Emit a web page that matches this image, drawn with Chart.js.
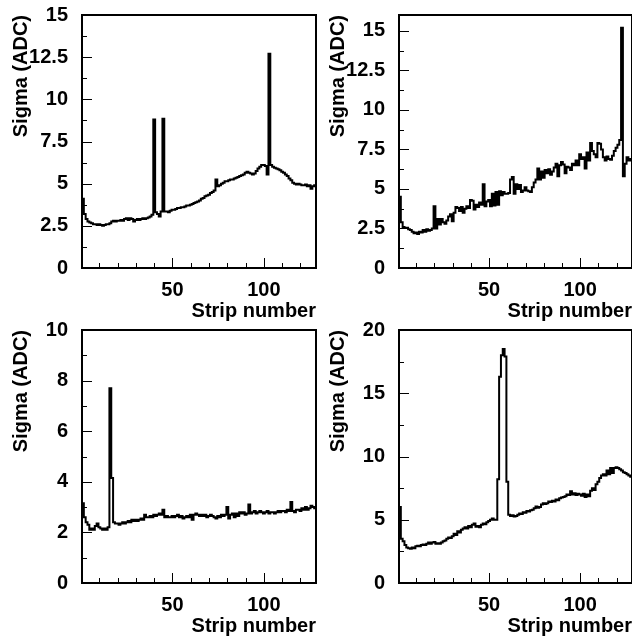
<!DOCTYPE html>
<html>
<head>
<meta charset="utf-8">
<script src="https://cdn.jsdelivr.net/npm/chart.js@4/dist/chart.umd.min.js"></script>
<style>
  html, body { margin: 0; padding: 0; background: #fff; }
  body { width: 632px; height: 637px; position: relative; overflow: hidden; }
  canvas { position: absolute; }
</style>
</head>
<body>
<canvas id="pA" width="318" height="322" style="left:0;top:0"></canvas>
<canvas id="pB" width="318" height="322" style="left:317px;top:0"></canvas>
<canvas id="pC" width="318" height="322" style="left:0;top:315px"></canvas>
<canvas id="pD" width="318" height="322" style="left:317px;top:315px"></canvas>
<script>
// Strip numbers 1..128 (one histogram bin per strip)
const stripNumbers = Array.from({ length: 128 }, (_, i) => i + 1);

// Noise sigma per strip, ADC counts
const sigmaTopLeft = [
  4.1, 3.2, 2.9, 2.75, 2.7, 2.65, 2.6, 2.6, 2.55, 2.6,
  2.55, 2.5, 2.55, 2.6, 2.6, 2.65, 2.75, 2.8, 2.75, 2.8,
  2.8, 2.85, 2.8, 2.9, 2.95, 2.85, 2.95, 2.9, 2.75, 2.85,
  2.9, 2.85, 2.9, 2.95, 2.9, 2.95, 3.0, 3.05, 3.15, 8.8,
  3.3, 3.2, 3.05, 3.35, 8.85, 3.35, 3.35, 3.3, 3.4, 3.45,
  3.45, 3.5, 3.55, 3.55, 3.6, 3.6, 3.65, 3.7, 3.7, 3.75,
  3.8, 3.85, 3.9, 3.95, 4.0, 4.1, 4.15, 4.25, 4.3, 4.35,
  4.45, 4.5, 4.6, 5.25, 4.85, 4.9, 5.0, 5.05, 5.15, 5.15,
  5.2, 5.25, 5.25, 5.3, 5.35, 5.4, 5.45, 5.5, 5.55, 5.65,
  5.7, 5.65, 5.6, 5.55, 5.6, 5.75, 5.9, 6.0, 6.1, 6.1,
  6.05, 5.55, 12.7, 6.1, 6.0, 5.95, 5.9, 5.85, 5.8, 5.7,
  5.65, 5.55, 5.45, 5.3, 5.2, 5.05, 5.0, 4.95, 5.0, 4.95,
  4.9, 4.9, 4.95, 4.85, 4.9, 4.7, 4.85, 4.9
];
const sigmaTopRight = [
  4.5, 2.9, 2.6, 2.55, 2.55, 2.45, 2.4, 2.3, 2.2, 2.25,
  2.15, 2.3, 2.25, 2.4, 2.3, 2.45, 2.35, 2.4, 2.5, 3.9,
  2.5, 3.1, 2.75, 3.1, 2.9, 2.8, 3.0, 3.25, 3.4, 2.95,
  3.5, 3.85, 3.8, 3.6, 3.85, 3.5, 3.75, 3.9, 3.8, 4.3,
  4.25, 3.7, 4.0, 3.85, 4.15, 4.0, 5.3, 3.9, 4.2, 4.3,
  3.9, 4.7, 3.95, 4.8, 4.0, 4.85, 4.6, 4.8, 4.7, 4.7,
  4.75, 5.6, 5.75, 4.7, 5.3, 5.0, 5.25, 4.8, 4.9, 5.1,
  4.9, 4.85, 4.8, 5.1, 5.4, 5.6, 6.3, 5.6, 6.1, 5.7,
  6.2, 6.0, 6.25, 5.9, 6.1, 6.35, 6.6, 5.8, 6.5, 6.7,
  6.55, 6.0, 6.4, 6.35, 6.2, 6.6, 6.5, 6.8, 6.5, 7.2,
  6.9, 7.0, 6.3, 7.3, 6.8, 7.9, 7.4, 7.2, 7.0, 7.9,
  7.85, 7.5, 7.0, 6.8, 7.05, 6.9, 6.85, 7.1, 7.4, 7.6,
  7.8, 8.1, 15.2, 5.8, 6.6, 7.0, 6.8, 6.9
];
const sigmaBottomLeft = [
  3.15, 2.6, 2.4, 2.3, 2.1, 2.15, 2.1, 2.25, 2.35, 2.2,
  2.15, 2.1, 2.15, 2.1, 2.2, 7.7, 4.15, 2.4, 2.35, 2.35,
  2.3, 2.35, 2.4, 2.35, 2.4, 2.45, 2.4, 2.5, 2.45, 2.5,
  2.45, 2.5, 2.55, 2.5, 2.7, 2.6, 2.6, 2.65, 2.6, 2.7,
  2.65, 2.7, 2.75, 2.7, 2.9, 2.6, 2.65, 2.6, 2.6, 2.65,
  2.6, 2.65, 2.7, 2.6, 2.65, 2.55, 2.6, 2.65, 2.6, 2.7,
  2.5, 2.7, 2.75, 2.7, 2.65, 2.7, 2.65, 2.7, 2.6, 2.65,
  2.7, 2.65, 2.6, 2.55, 2.65, 2.6, 2.7, 2.65, 2.7, 3.0,
  2.55, 2.7, 2.75, 2.6, 2.75, 2.65, 2.8, 2.75, 2.8, 2.7,
  2.75, 3.1, 2.75, 2.8, 2.85, 2.75, 2.8, 2.85, 2.8, 2.75,
  2.8, 2.85, 2.75, 2.8, 2.8, 2.75, 2.8, 2.85, 2.8, 2.85,
  2.85, 2.8, 2.9, 2.85, 3.2, 2.85, 2.8, 2.9, 2.9, 2.85,
  2.95, 2.9, 3.0, 2.9, 2.95, 3.05, 3.0, 2.95
];
const sigmaBottomRight = [
  6.0, 3.5, 3.3, 3.0, 2.8, 2.75, 2.7, 2.8, 2.75, 2.9,
  2.95, 2.9, 3.0, 3.05, 3.0, 3.1, 3.2, 3.1, 3.2, 3.25,
  3.1, 3.15, 3.1, 3.2, 3.3, 3.35, 3.5, 3.6, 3.55, 3.7,
  3.9, 3.8, 4.1, 4.0, 4.2, 4.3, 4.4, 4.3, 4.5, 4.4,
  4.6, 4.7, 4.45, 4.5, 4.4, 4.6, 4.7, 4.65, 4.8, 4.9,
  5.0, 5.1, 5.0, 5.0, 8.2, 16.3, 18.0, 18.5, 17.9, 8.0,
  5.4, 5.3, 5.35, 5.25, 5.3, 5.4, 5.5, 5.45, 5.6, 5.55,
  5.7, 5.65, 5.75, 5.8, 5.9, 6.05, 5.95, 6.0, 6.2, 6.3,
  6.25, 6.3, 6.45, 6.4, 6.5, 6.45, 6.6, 6.55, 6.7, 6.75,
  6.8, 6.85, 7.0, 6.95, 7.25, 7.0, 7.1, 6.95, 7.05, 7.0,
  6.9, 7.05, 6.8, 7.0, 6.85, 7.3, 7.5, 7.35, 7.8, 8.0,
  8.3, 8.5, 8.6, 8.5, 8.9, 8.6, 9.1, 8.7, 9.1, 9.15,
  9.1, 9.0, 8.9, 8.75, 8.7, 8.6, 8.5, 8.4
];

// Axis ticks
const xMajorTicks = [50, 100];
const xMinorTicks = [10, 20, 30, 40, 60, 70, 80, 90, 110, 120];
const yTicksTopLeft = [0, 2.5, 5, 7.5, 10, 12.5, 15];
const yMinorTopLeft = [1.25, 3.75, 6.25, 8.75, 11.25, 13.75];
const yTicksTopRight = [0, 2.5, 5, 7.5, 10, 12.5, 15];
const yMinorTopRight = [1.25, 3.75, 6.25, 8.75, 11.25, 13.75];
const yTicksBottomLeft = [0, 2, 4, 6, 8, 10];
const yMinorBottomLeft = [1, 3, 5, 7, 9];
const yTicksBottomRight = [0, 5, 10, 15, 20];
const yMinorBottomRight = [2.5, 7.5, 12.5, 17.5];

const FAMILY = "'Liberation Sans', Arial, Helvetica, sans-serif";
const FONT = { family: FAMILY, size: 20, weight: 'bold', lineHeight: 1.2 };
const TITLE_FONT = { family: FAMILY, size: 20, weight: 'bold', lineHeight: 1.0 };

// Frame box plus inward-pointing major/minor tick marks
const frameTicks = {
  id: 'frameTicks',
  afterDatasetsDraw(chart, args, opts) {
    const { ctx, chartArea: a, scales: { x, y } } = chart;
    ctx.save();
    ctx.strokeStyle = '#000';
    ctx.lineWidth = 1;
    ctx.beginPath();
    const xt = (vals, len) => vals.forEach(v => {
      const px = Math.round(x.getPixelForValue(v)) + 0.5;
      ctx.moveTo(px, a.bottom); ctx.lineTo(px, a.bottom - len);
    });
    const yt = (vals, len) => vals.forEach(v => {
      const py = Math.round(y.getPixelForValue(v)) + 0.5;
      ctx.moveTo(a.left, py); ctx.lineTo(a.left + len, py);
    });
    xt(opts.xMajor, 10); xt(opts.xMinor, 5);
    yt(opts.yMajor, 10); yt(opts.yMinor, 5);
    ctx.stroke();
    ctx.lineWidth = 2;
    ctx.strokeRect(a.left, a.top, a.right - a.left, a.bottom - a.top);
    ctx.restore();
  }
};

function histogram(id, values, yMax, yMajor, yMinor, padRight) {
  // bin edges: strip k spans [k-0.5, k+0.5]
  const pts = stripNumbers.map((s, i) => ({ x: s - 0.5, y: values[i] }));
  pts.push({ x: stripNumbers[stripNumbers.length - 1] + 0.5, y: values[values.length - 1] });
  new Chart(document.getElementById(id), {
    type: 'line',
    data: {
      datasets: [{
        data: pts,
        stepped: 'before',
        borderColor: '#000',
        borderWidth: 2,
        pointRadius: 0,
        fill: false,
        tension: 0
      }]
    },
    options: {
      responsive: false,
      animation: false,
      devicePixelRatio: 1,
      layout: { padding: { left: 0, top: 15, right: padRight, bottom: 0 } },
      plugins: {
        legend: { display: false },
        tooltip: { enabled: false },
        frameTicks: { xMajor: xMajorTicks, xMinor: xMinorTicks, yMajor: yMajor, yMinor: yMinor }
      },
      scales: {
        x: {
          type: 'linear',
          min: 0.5,
          max: 128.5,
          grid: { display: false, drawTicks: false },
          border: { display: false },
          afterBuildTicks: s => { s.ticks = xMajorTicks.map(v => ({ value: v })); },
          afterFit: s => { s.height = 54; s.paddingLeft = 0; s.paddingRight = 0; },
          ticks: { padding: 10, color: '#000', font: FONT, maxRotation: 0, autoSkip: false, callback: v => String(v) },
          title: { display: true, text: 'Strip number', align: 'end', color: '#000', font: TITLE_FONT, padding: { top: 0, bottom: 0.5 } }
        },
        y: {
          type: 'linear',
          min: 0,
          max: yMax,
          grid: { display: false, drawTicks: false },
          border: { display: false },
          afterBuildTicks: s => { s.ticks = yMajor.map(v => ({ value: v })); },
          afterFit: s => { s.width = 82; s.paddingTop = 0; s.paddingBottom = 0; },
          ticks: { padding: 14, color: '#000', font: FONT, autoSkip: false, callback: v => String(v) },
          title: { display: true, text: 'Sigma (ADC)', align: 'end', color: '#000', font: FONT, padding: { top: 9.5, bottom: 0 } }
        }
      }
    },
    plugins: [frameTicks]
  });
}

histogram('pA', sigmaTopLeft, 15, yTicksTopLeft, yMinorTopLeft, 2);
histogram('pB', sigmaTopRight, 16, yTicksTopRight, yMinorTopRight, 3);
histogram('pC', sigmaBottomLeft, 10, yTicksBottomLeft, yMinorBottomLeft, 2);
histogram('pD', sigmaBottomRight, 20, yTicksBottomRight, yMinorBottomRight, 3);
</script>
</body>
</html>
